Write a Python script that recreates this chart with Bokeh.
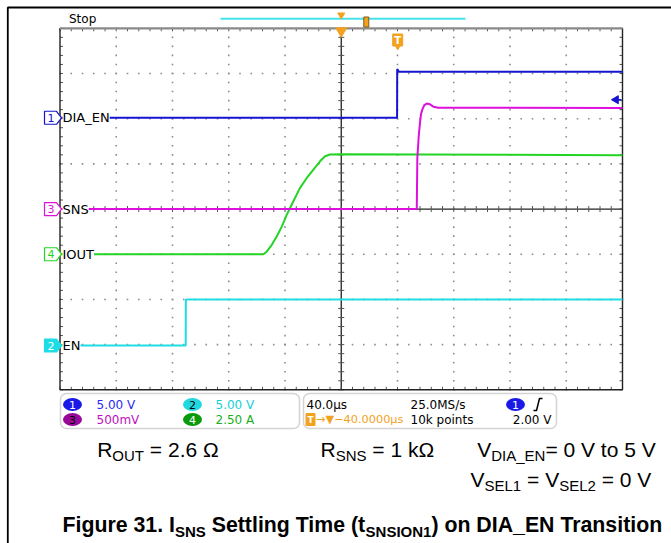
import numpy as np
from bokeh.plotting import figure
from bokeh.models import Range1d, Label, BoxAnnotation
from bokeh.embed import file_html
from bokeh.resources import INLINE
from bokeh.core.properties import value

# ---------------- data ----------------
time_per_div = 40.0          # us / div, 10 divisions
n_xdiv, n_ydiv = 10, 8

# CH1  DIA_EN (V)
dia_en_t = [-200.0, 39.7, 39.8, 41.0, 200.0]
dia_en_v = [0.0, 0.0, 5.4, 5.1, 5.1]
# CH2  EN (V)
en_t = [-200.0, -110.6, -110.5, 200.0]
en_v = [0.0, 0.0, 5.1, 5.1]
# CH3  SNS (V)
sns_t = [-200.0, 53.7, 54.1, 55.1, 56.0, 56.7, 57.7, 59.1, 60.8, 63.1, 65.5, 69.0, 91.6, 200.0]
sns_v = [0.0, 0.0, 0.567, 0.807, 0.956, 1.048, 1.103, 1.151, 1.167, 1.159, 1.133, 1.122, 1.122, 1.118]
# CH4  IOUT (A)
iout_t = [-200.0, -55.4, -53.0, -49.4, -45.9, -42.3, -38.8, -36.4, -32.9, -29.3, -24.5,
          -19.8, -15.1, -11.5, -8.0, -0.9, 200.0]
iout_a = [0.0, 0.0, 0.14, 0.52, 0.98, 1.53, 2.18, 2.56, 3.11, 3.67, 4.22,
          4.68, 5.14, 5.42, 5.52, 5.53, 5.48]

# channel settings: volts (amps) per division and ground position (div)
ch_names = ["DIA_EN", "EN", "SNS", "IOUT"]
ch_numbers = ["1", "2", "3", "4"]
ch_scale = {"DIA_EN": 5.0, "EN": 5.0, "SNS": 0.5, "IOUT": 2.5}
ch_offset = {"DIA_EN": 2.02, "EN": -3.02, "SNS": 0.0, "IOUT": -1.0}
ch_scale_text = ["5.00 V", "5.00 V", "500mV", "2.50 A"]
trigger_level_v = 2.0

timebase_text = "40.0\u00b5s"
sample_rate_text = "25.0MS/s"
trig_pos_text = "\u2192\u25bc\u221240.0000\u00b5s"
record_text = "10k points"
trig_level_text = "2.00 V"

# ---------------- colours ----------------
C_CH = {"DIA_EN": "#1414d2", "EN": "#1fdde6", "SNS": "#dd10dd", "IOUT": "#24d424"}
C_BADGE = {"DIA_EN": "#1a1ae6", "EN": "#22d8e0", "SNS": "#9a089a", "IOUT": "#0b9a0b"}
C_TEXT = {"DIA_EN": "#2a2af0", "EN": "#14d0d8", "SNS": "#c010c0", "IOUT": "#18b018"}
ORANGE = "#f2a21f"

# ---------------- geometry ----------------
W, H = 671, 543
OFF = 0
GX0, GX1 = 59.5, 622.0
GY0, GY1 = 27.8, 389.3
sx = (GX1 - GX0) / (n_xdiv * time_per_div)
sy = (GY1 - GY0) / n_ydiv
t_half = n_xdiv / 2 * time_per_div
d_half = n_ydiv / 2
x_start = -t_half - (GX0 - OFF) / sx
x_end = t_half + (OFF + W - GX1) / sx
y_end = d_half + (GY0 - OFF) / sy
y_start = -d_half - (OFF + H - GY1) / sy


def X(px):
    return -t_half + (px - GX0) / sx


def Y(py):
    return d_half - (py - GY0) / sy


def DX(n):
    return n / sx


def DY(n):
    return n / sy


def to_div(vals, ch):
    return [ch_offset[ch] + v / ch_scale[ch] for v in vals]


p = figure(width=W, height=H, x_range=Range1d(x_start, x_end), y_range=Range1d(y_start, y_end),
           toolbar_location=None, output_backend="svg", min_border=0,
           x_axis_location=None, y_axis_location=None)
p.grid.visible = False
p.outline_line_color = None
p.background_fill_color = "white"
p.border_fill_color = "white"

# outer page frame
p.line([X(7.3), X(7.3), X(W)], [Y(H), Y(7), Y(7)], line_color="black", line_width=1.8)

# ---------------- graticule ----------------
dots_x, dots_y = [], []
for i in range(-4, 5):
    if i == 0:
        continue
    for j in range(-20, 21):
        dots_x.append(i * time_per_div)
        dots_y.append(j / 5)
for k in range(-3, 4):
    if k == 0:
        continue
    for m in range(-25, 26):
        dots_x.append(m / 5 * time_per_div)
        dots_y.append(k)
p.scatter(dots_x, dots_y, marker="square", size=1.6, fill_color="#8c8c8c", line_color=None)

# center cross
p.segment(x0=[0, -t_half], y0=[-d_half, 0], x1=[0, t_half], y1=[d_half, 0],
          line_color="#222222", line_width=1.3)
# ticks on centre lines and borders
tx0, ty0, tx1, ty1 = [], [], [], []
for m in range(-25, 26):
    xm = m / 5 * time_per_div
    tx0 += [xm, xm, xm]
    ty0 += [-DY(3), d_half, -d_half]
    tx1 += [xm, xm, xm]
    ty1 += [DY(3), d_half - DY(3), -d_half + DY(3)]
for j in range(-20, 21):
    yj = j / 5
    tx0 += [-DX(3), -t_half, t_half]
    ty0 += [yj, yj, yj]
    tx1 += [DX(3), -t_half + DX(3), t_half - DX(3)]
    ty1 += [yj, yj, yj]
p.segment(x0=tx0, y0=ty0, x1=tx1, y1=ty1, line_color="#555555", line_width=1)

# border
p.line([-t_half, -t_half, t_half, t_half], [d_half, -d_half, -d_half, d_half],
       line_color="#222222", line_width=1.4)
p.line([-t_half, t_half], [d_half, d_half], line_color="#8a8a8a", line_width=2.2)

# ---------------- traces ----------------
p.line(en_t, to_div(en_v, "EN"), line_color=C_CH["EN"], line_width=2)
p.line(iout_t, to_div(iout_a, "IOUT"), line_color=C_CH["IOUT"], line_width=2)
p.line(sns_t, to_div(sns_v, "SNS"), line_color=C_CH["SNS"], line_width=2)
p.line(dia_en_t, to_div(dia_en_v, "DIA_EN"), line_color=C_CH["DIA_EN"], line_width=2)

# trigger level arrow (ch1) at right edge
trig_y = ch_offset["DIA_EN"] + trigger_level_v / ch_scale["DIA_EN"]
p.segment(x0=[X(615)], y0=[trig_y], x1=[X(621)], y1=[trig_y], line_color=C_CH["DIA_EN"], line_width=1.5)
p.scatter([X(615.5)], [trig_y], marker="triangle", angle=np.pi / 2, size=8,
          fill_color=C_CH["DIA_EN"], line_color=C_CH["DIA_EN"])

# trace labels and channel tags
for name, num in zip(ch_names, ch_numbers):
    yc = ch_offset[name]
    p.add_layout(Label(x=X(62), y=yc, text=name, text_font="DejaVu Sans", text_font_size="13px",
                       text_color="black", text_baseline="middle", text_align="left",
                       background_fill_color="white"))
    xs = [X(44), X(56), X(61), X(56), X(44)]
    ys = [yc + DY(6.5), yc + DY(6.5), yc, yc - DY(6.5), yc - DY(6.5)]
    if name == "EN":
        p.patch(xs, ys, fill_color=C_CH[name], line_color=C_CH[name], line_width=1.2)
        tcol = "white"
    else:
        p.patch(xs, ys, fill_color="white", line_color=C_CH[name], line_width=1.2)
        tcol = C_CH[name]
    p.add_layout(Label(x=X(50.5), y=yc, text=num, text_font="DejaVu Sans", text_font_size="11px",
                       text_color=tcol, text_baseline="middle", text_align="center"))

# ---------------- top status area ----------------
p.add_layout(Label(x=X(68.5), y=Y(18.5), text="Stop", text_font="DejaVu Sans", text_font_size="12px",
                   text_color="black", text_baseline="middle"))
p.segment(x0=[X(220)], y0=[Y(18.3)], x1=[X(465)], y1=[Y(18.3)], line_color="#46e2ea", line_width=2)
p.scatter([0], [Y(14.5)], marker="inverted_triangle", size=7, fill_color=ORANGE, line_color=ORANGE)
p.rect([X(365.8)], [Y(21.5)], width=5, height=10, width_units="screen", height_units="screen",
       fill_color=ORANGE, line_color="#7a5a20", line_width=1)
p.scatter([0], [Y(30.5)], marker="inverted_triangle", size=11, fill_color=ORANGE, line_color=ORANGE)
# trigger "T" marker
p.rect([X(397.2)], [Y(39.5)], width=10, height=12, width_units="screen", height_units="screen",
       fill_color=ORANGE, line_color=ORANGE)
p.scatter([X(397.2)], [Y(46.5)], marker="inverted_triangle", size=5, fill_color=ORANGE, line_color=ORANGE)
p.add_layout(Label(x=X(397.2), y=Y(39.5), text="T", text_font="DejaVu Sans", text_font_size="10px",
                   text_font_style="bold", text_color="white", text_baseline="middle", text_align="center"))

# ---------------- bottom info panel ----------------
for l, r in [(60, 299), (303, 556)]:
    p.add_layout(BoxAnnotation(left=X(l), right=X(r), top=Y(393), bottom=Y(428),
                               fill_alpha=0, line_color="#707070", line_width=1.5, border_radius=6))

row1, row2 = Y(404), Y(419)
badge_x = [X(72), X(192), X(72), X(192)]
badge_y = [row1, row1, row2, row2]
p.ellipse(badge_x + [X(515)], badge_y + [row1], width=19, height=13,
          width_units="screen", height_units="screen",
          fill_color=[C_BADGE[n] for n in ch_names] + [C_BADGE["DIA_EN"]], line_color=None)
p.text(badge_x + [X(515)], badge_y + [row1], text=ch_numbers + ["1"],
       text_color=["white", "black", "black", "white", "white"],
       text_font=value("DejaVu Sans"), text_font_size="11px", text_align="center", text_baseline="middle")
p.text([X(96), X(215), X(96), X(215)], badge_y, text=ch_scale_text,
       text_color=[C_TEXT[n] for n in ch_names],
       text_font=value("DejaVu Sans"), text_font_size="12px", text_align="left", text_baseline="middle")
p.text([X(306), X(410), X(410)], [row1, row1, row2], text=[timebase_text, sample_rate_text, record_text],
       text_color="black", text_font=value("DejaVu Sans"), text_font_size="12px",
       text_align="left", text_baseline="middle")
p.text([X(315.5)], [row2], text=[trig_pos_text], text_color=ORANGE,
       text_font=value("DejaVu Sans"), text_font_size="11.3px", text_align="left", text_baseline="middle")
p.text([X(551)], [row2], text=[trig_level_text], text_color="black",
       text_font=value("DejaVu Sans"), text_font_size="12px", text_align="right", text_baseline="middle")
p.rect([X(310)], [row2], width=9, height=12, width_units="screen", height_units="screen",
       fill_color=ORANGE, line_color=ORANGE)
p.text([X(310)], [row2], text=["T"], text_color="white", text_font=value("DejaVu Sans"),
       text_font_size="9px", text_font_style="bold", text_align="center", text_baseline="middle")
# rising-edge icon
p.line([X(533), X(536), X(537.5), X(539), X(542)], [Y(410), Y(410), Y(404), Y(398), Y(398)],
       line_color="black", line_width=1.5)

# ---------------- captions ----------------
ARIAL = {' ': 278, '(': 333, ')': 333, '.': 278, '=': 584, 'A': 667, 'D': 722, 'E': 667, 'I': 278,
         'L': 556, 'N': 722, 'O': 778, 'R': 722, 'S': 667, 'T': 611, 'U': 722, 'V': 667, '_': 556,
         'k': 500, 'o': 556, 't': 278, '\u03a9': 768}
ARIAL_B = {' ': 278, '(': 333, ')': 333, '.': 278, 'A': 722, 'D': 722, 'E': 667, 'F': 611, 'I': 278,
           'N': 722, 'O': 778, 'S': 667, 'T': 611, '_': 556, 'a': 556, 'e': 556, 'g': 611, 'i': 278,
           'l': 278, 'm': 889, 'n': 611, 'o': 611, 'r': 389, 's': 556, 't': 333, 'u': 611}


def put_runs(runs, x0, center, bold=False, size=21, sub_size=15):
    """center: vertical centre (px from top) of the full-size capitals."""
    x = x0
    table = ARIAL_B if bold else ARIAL
    for txt, sub in runs:
        fs = sub_size if sub else size
        yc = center + (0.29 * size if sub else 0)
        lead = len(txt) - len(txt.lstrip(" "))
        x += lead * table[' '] * fs / 1000
        core = txt.strip(" ")
        p.add_layout(Label(x=X(x), y=Y(yc), text=core, text_font="Liberation Sans",
                           text_font_size=f"{fs}px", text_font_style="bold" if bold else "normal",
                           text_color="black", text_baseline="middle", text_align="left"))
        x += sum(table.get(c, 556) for c in txt.lstrip(" ")) * fs / 1000


put_runs([("R", False), ("OUT", True), (" = 2.6 \u03a9", False)], 96.7, 448.5)
put_runs([("R", False), ("SNS", True), (" = 1 k\u03a9", False)], 320, 448.5)
put_runs([("V", False), ("DIA_EN", True), ("= 0 V to 5 V", False)], 476.7, 448.5)
put_runs([("V", False), ("SEL1", True), (" = V", False), ("SEL2", True), (" = 0 V", False)], 470, 478.5)
put_runs([("Figure 31. I", False), ("SNS", True), (" Settling Time (t", False), ("SNSION1", True),
          (") on DIA_EN Transition", False)], 62, 524.5, bold=True, size=21.3, sub_size=15)

open("out.html", "w").write(file_html(p, INLINE))
